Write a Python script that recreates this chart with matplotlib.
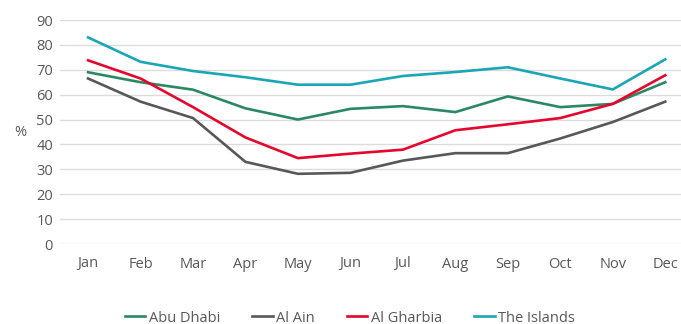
import matplotlib.pyplot as plt
import numpy as np

months = ['Jan', 'Feb', 'Mar', 'Apr', 'May', 'Jun', 'Jul', 'Aug', 'Sep', 'Oct', 'Nov', 'Dec']
abu_dhabi = [69, 65, 62, 54.5, 50, 54.3, 55.4, 53, 59.3, 55, 56.3, 65]
al_ain = [66.5, 57.2, 50.6, 33, 28.2, 28.6, 33.5, 36.5, 36.5, 42.4, 49, 57.2]
al_gharbia = [73.8, 66.5, 55, 42.8, 34.5, 36.3, 37.9, 45.7, 48.1, 50.6, 56.3, 67.8]
the_islands = [83, 73.2, 69.5, 67, 64, 64, 67.5, 69.1, 71, 66.5, 62.1, 74.2]

series = [
    ('Abu Dhabi', abu_dhabi, '#2b8863'),
    ('Al Ain', al_ain, '#58585a'),
    ('Al Gharbia', al_gharbia, '#e5062d'),
    ('The Islands', the_islands, '#1ba6b5'),
]

plt.rcParams['font.family'] = ['Open Sans', 'DejaVu Sans']
txt = '#58585a'

fig = plt.figure(figsize=(6.81, 3.24), dpi=100)
ax = fig.add_axes([60 / 681, (324 - 244) / 324, 1 - 60 / 681, 224 / 324])

x = np.arange(len(months))
for name, vals, col in series:
    ax.plot(x, vals, color=col, lw=1.9, label=name, solid_joinstyle='miter')

ax.set_ylim(0, 90)
ax.set_yticks(range(0, 91, 10))
ax.set_xlim(-0.535, 11.3)
ax.set_xticks(x)
ax.set_xticklabels(months)
ax.grid(axis='y', color='#dcdcdc', lw=1)
ax.set_axisbelow(True)
for s in ax.spines.values():
    s.set_visible(False)
ax.tick_params(length=0, labelsize=10.5, colors=txt)
ax.tick_params(axis='x', pad=9)
ax.tick_params(axis='y', pad=5)
ax.set_ylabel('%', rotation=0, fontsize=10.5, color=txt, va='center', ha='center')
ax.yaxis.set_label_coords(-0.064, 0.5)

fig.legend(loc='center', bbox_to_anchor=(350 / 681, 1 - 318 / 324), ncol=4,
           frameon=False, fontsize=10.5, handlelength=1.4, handletextpad=0.25,
           columnspacing=2.2, labelcolor=txt)

fig.savefig('out.png', dpi=100)
